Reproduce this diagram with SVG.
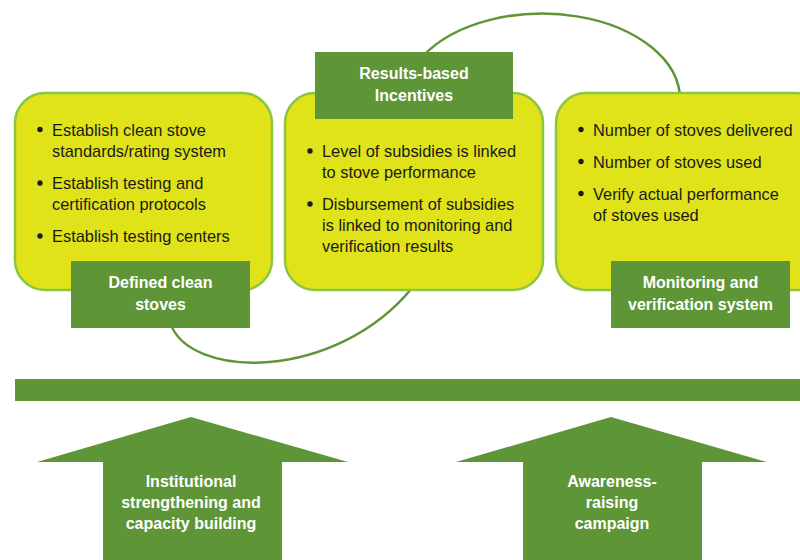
<svg xmlns="http://www.w3.org/2000/svg" width="800" height="560" viewBox="0 0 800 560">
<style>
.box{fill:#e0e319;stroke:#8cc63f;stroke-width:2.5}
.lab{fill:#5e9536}
.arc{fill:none;stroke:#5e9536;stroke-width:2.5}
.t{font-family:"Liberation Sans",Arial,sans-serif;font-size:16.4px;fill:#1a1a1a}
.w{font-family:"Liberation Sans",Arial,sans-serif;font-size:16px;font-weight:bold;fill:#ffffff;text-anchor:middle}
.bul{fill:#1a1a1a}
</style>
<rect width="800" height="560" fill="#ffffff"/>
<g id="connectors">
<path class="arc" d="M170,322 C188,380 335,382 412,288"/>
<path class="arc" d="M423,56 A138 86 0 0 1 680,100"/>
</g>
<g id="node-defined">
<rect class="box" x="15" y="93" width="257" height="197" rx="30"/>
<circle class="bul" cx="40" cy="129.5" r="2.7"/>
<circle class="bul" cx="40" cy="183" r="2.7"/>
<circle class="bul" cx="40" cy="236" r="2.7"/>
<text class="t" x="52" y="135.5">Establish clean stove</text>
<text class="t" x="52" y="157">standards/rating system</text>
<text class="t" x="52" y="189">Establish testing and</text>
<text class="t" x="52" y="210">certification protocols</text>
<text class="t" x="52" y="242">Establish testing centers</text>
<rect class="lab" x="71" y="261" width="179" height="67"/>
<text class="w" x="160.5" y="288">Defined clean</text>
<text class="w" x="160.5" y="310">stoves</text>
</g>
<g id="node-results">
<rect class="box" x="285" y="93" width="258" height="197" rx="30"/>
<circle class="bul" cx="310" cy="151" r="2.7"/>
<circle class="bul" cx="310" cy="204" r="2.7"/>
<text class="t" x="322" y="157">Level of subsidies is linked</text>
<text class="t" x="322" y="178">to stove performance</text>
<text class="t" x="322" y="210">Disbursement of subsidies</text>
<text class="t" x="322" y="231">is linked to monitoring and</text>
<text class="t" x="322" y="252">verification results</text>
<rect class="lab" x="315" y="52" width="198" height="67"/>
<text class="w" x="414" y="79">Results-based</text>
<text class="w" x="414" y="101">Incentives</text>
</g>
<g id="node-monitoring">
<rect class="box" x="556" y="93" width="270" height="197" rx="30"/>
<circle class="bul" cx="581" cy="129.5" r="2.7"/>
<circle class="bul" cx="581" cy="161.5" r="2.7"/>
<circle class="bul" cx="581" cy="193.5" r="2.7"/>
<text class="t" x="593" y="135.5">Number of stoves delivered</text>
<text class="t" x="593" y="167.5">Number of stoves used</text>
<text class="t" x="593" y="199.5">Verify actual performance</text>
<text class="t" x="593" y="220.5">of stoves used</text>
<rect class="lab" x="611" y="261" width="179" height="67"/>
<text class="w" x="700.5" y="288">Monitoring and</text>
<text class="w" x="700.5" y="310">verification system</text>
</g>
<g id="node-bar">
<rect class="lab" x="15" y="379" width="785" height="22"/>
</g>
<g id="node-institutional">
<polygon class="lab" points="191,417 348,462 282,462 282,560 103,560 103,462 37,462"/>
<text class="w" x="191" y="487">Institutional</text>
<text class="w" x="191" y="508">strengthening and</text>
<text class="w" x="191" y="529">capacity building</text>
</g>
<g id="node-awareness">
<polygon class="lab" points="611,417 767,462 702,462 702,560 523,560 523,462 456,462"/>
<text class="w" x="612" y="487">Awareness-</text>
<text class="w" x="612" y="508">raising</text>
<text class="w" x="612" y="529">campaign</text>
</g>
</svg>
